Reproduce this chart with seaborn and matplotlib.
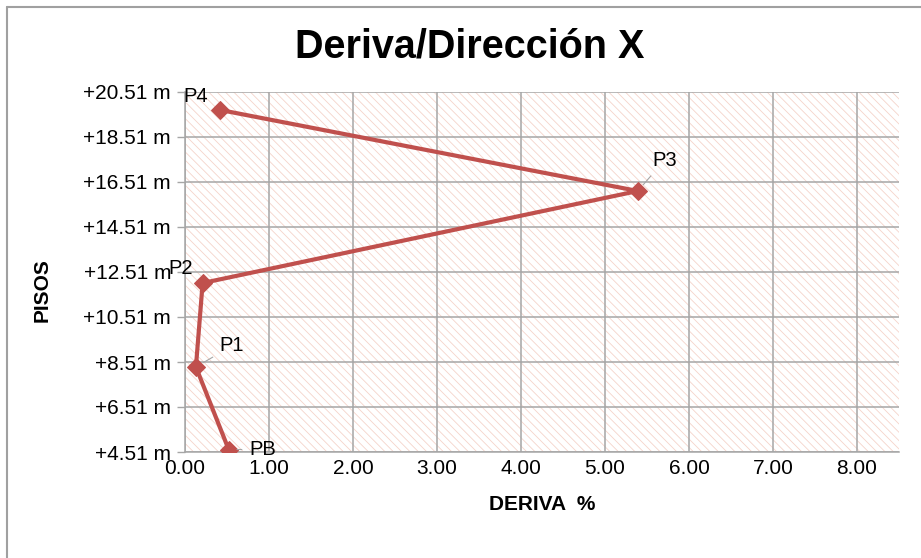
import numpy as np
import pandas as pd
import matplotlib
matplotlib.use("Agg")
import matplotlib.pyplot as plt
from matplotlib.lines import Line2D
import seaborn as sns

# data
pisos = ["PB", "P1", "P2", "P3", "P4"]
deriva = [0.52, 0.13, 0.21, 5.39, 0.42]
altura = [4.62, 8.29, 12.02, 16.11, 19.71]

y_ticks = [4.51, 6.51, 8.51, 10.51, 12.51, 14.51, 16.51, 18.51, 20.51]
y_labels = ["+4.51 m", "+6.51 m", "+8.51 m", "+10.51 m", "+12.51 m",
            "+14.51 m", "+16.51 m", "+18.51 m", "+20.51 m"]
x_ticks = [0, 1, 2, 3, 4, 5, 6, 7, 8]
x_labels = ["0.00", "1.00", "2.00", "3.00", "4.00", "5.00", "6.00", "7.00", "8.00"]

# label offsets in pixels (dx, dy) and whether a leader line is drawn
label_pos = {"PB": (34, 0, True), "P1": (36, 21, True), "P2": (-22, 15, False),
             "P3": (27, 31, True), "P4": (-25, 13, False)}

LINE_RED = "#c0504d"
GRID = "#a6a6a6"

sns.set_theme(style="white")
plt.rcParams["font.family"] = ["Liberation Sans", "DejaVu Sans"]
plt.rcParams["text.color"] = "black"
plt.rcParams["axes.labelcolor"] = "black"
plt.rcParams["hatch.linewidth"] = 0.6

df = pd.DataFrame({"piso": pisos, "deriva": deriva, "altura": altura})

fig = plt.figure(figsize=(9.21, 5.58), dpi=100)
ax = fig.add_axes([185 / 921, 1 - 452 / 558, (899 - 185) / 921, (452 - 92) / 558])

# hatched plot area background
ax.axvspan(0, 8.5, facecolor="white", edgecolor="#f5d3ca", hatch="\\\\\\\\",
           linewidth=0, zorder=0)

sns.lineplot(data=df, x="deriva", y="altura", sort=False, ax=ax,
             color=LINE_RED, linewidth=3, marker="D", markersize=9,
             markeredgecolor=LINE_RED, zorder=5)

for p, x, y in zip(pisos, deriva, altura):
    dx, dy, lead = label_pos[p]
    props = None
    if lead:
        props = dict(arrowstyle="-", color=GRID, lw=0.8, shrinkA=3, shrinkB=6)
    ax.annotate(p, xy=(x, y), xytext=(dx, dy), textcoords="offset pixels",
                ha="center", va="center", fontsize=14.5, color="black",
                arrowprops=props, zorder=6)

ax.set_xlim(0, 8.5)
ax.set_ylim(4.51, 20.51)
ax.set_xticks(x_ticks)
ax.set_xticklabels(x_labels)
ax.set_yticks(y_ticks)
ax.set_yticklabels(y_labels)
ax.tick_params(axis="both", labelsize=15, labelcolor="black")
ax.tick_params(axis="y", length=6, width=1, color=GRID, pad=4, left=True)
ax.tick_params(axis="x", length=0, pad=5)

ax.grid(True, color=GRID, linewidth=1.1, zorder=1)
ax.set_axisbelow(True)
for side in ["top", "right"]:
    ax.spines[side].set_visible(False)
for side in ["left", "bottom"]:
    ax.spines[side].set_color(GRID)
    ax.spines[side].set_linewidth(1.1)

ax.set_xlabel("DERIVA  %", fontsize=15, fontweight="bold", labelpad=12)
ax.set_ylabel("PISOS", fontsize=15, fontweight="bold")
ax.yaxis.set_label_coords(-(185 - 52) / (899 - 185), 0.45)

fig.text(470 / 921, 1 - 47 / 558, "Deriva/Dirección X", ha="center", va="center",
         fontsize=28.5, fontweight="bold", color="black")

# outer chart frame (top and left edges)
fig.add_artist(Line2D([7 / 921, 1], [1 - 7 / 558, 1 - 7 / 558], color="#a0a0a0",
                      linewidth=1.5, transform=fig.transFigure))
fig.add_artist(Line2D([7 / 921, 7 / 921], [0, 1 - 7 / 558], color="#a0a0a0",
                      linewidth=1.5, transform=fig.transFigure))

fig.savefig("out.png", dpi=100)
